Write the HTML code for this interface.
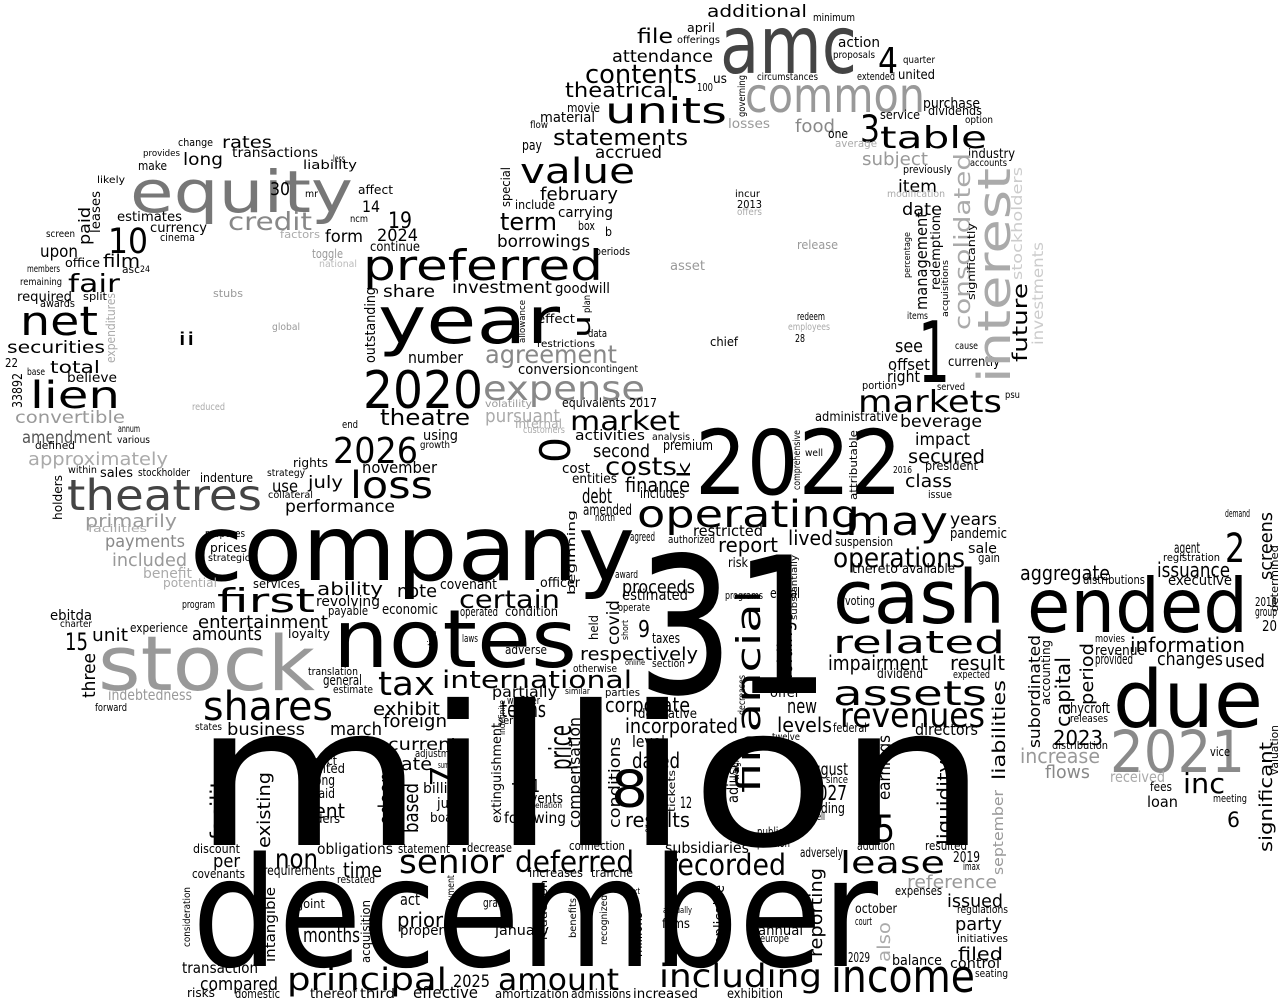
<!DOCTYPE html>
<html><head><meta charset="utf-8"><style>
html,body{margin:0;padding:0;background:#fff;}
svg{display:block;}
text{font-family:"DejaVu Sans","Liberation Sans",sans-serif;}
</style></head><body>
<svg id="cloud" width="1280" height="1005" viewBox="0 0 1280 1005">
<rect width="1280" height="1005" fill="#fff"/>
</svg>
<script>
// horizontal words: [text, left x, baseline y, font size, right x, colour]
const H = [
["million",192,845,195,988],["december",192,966,152,878],["company",190,580,91,635],
["31",637,693,190,830],["notes",333,667,80,577],["stock",98,690,76,315,"#999"],
["cash",833,623,74,1005],["ended",1027,632,75,1248],["due",1113,727,79,1263],
["2021",1110,772,58,1245,"#8a8a8a"],["2022",695,494,89,902],["year",378,343,65,560],
["2020",363,408,52,483],["preferred",363,280,42,603],["amc",720,73,80,857,"#444"],
["common",745,112,48,925,"#999"],["units",605,123,36,727],["value",520,183,35,635],
["equity",130,212,58,353,"#777"],["net",20,335,40,98],["lien",30,408,37,120],
["theatres",67,510,43,262,"#444"],["expense",483,400,34,645,"#888"],["operating",637,527,37,860],
["may",845,535,40,948],["operations",833,567,27,965],["related",833,653,31,1005],
["assets",833,705,34,987],["revenues",840,727,34,985],["1",918,382,85,950],
["income",831,992,45,975],["including",659,987,32,822],["amount",498,990,30,619],
["principal",287,990,31,447],["senior",399,873,33,504],["deferred",515,872,29,634],
["recorded",667,875,29,786],["lease",840,873,30,945],["5",875,842,37,895],
["8",611,807,51,648],["tax",378,695,33,435],["shares",203,720,40,333],
["first",217,612,33,315],["loss",350,498,37,433],["2026",333,463,36,418],
["international",442,688,24,632],["respectively",580,660,18,698],["certain",459,608,25,560],
["table",880,148,30,987],["markets",858,412,30,1002],["market",570,430,27,680],
["costs",605,475,25,677],["statements",553,145,22,688],["contents",585,83,26,697],
["4",878,73,36,898],["3",860,142,37,880],["2",1225,562,40,1245],["6",1227,827,21,1240],
["10",108,253,35,148],["fair",68,292,25,120],["credit",228,230,25,312,"#888"],
["agreement",485,363,25,617,"#888"],["9",638,637,23,650],["theatre",380,425,22,470],
["pursuant",485,422,18,560,"#aaa"],["term",500,230,24,557],["proceeds",622,593,18,695],
["corporate",605,712,20,690],["incorporated",625,733,20,738],["dated",632,768,21,680],
["results",625,827,20,690],["report",718,552,20,778],["lived",788,545,20,833],
["debt",582,503,20,612],["finance",625,492,20,690],["impairment",828,670,20,928],
["result",950,670,20,1005],["aggregate",1020,580,20,1110],["issuance",1157,577,20,1230],
["information",1130,652,20,1245],["changes",1157,665,18,1223],["used",1225,667,18,1265],
["inc",1183,793,28,1225],["2023",1053,745,20,1103],["increase",1020,763,20,1100,"#999"],
["flows",1045,778,18,1090,"#888"],["received",1110,782,15,1165,"#aaa"],["hycroft",1070,713,14,1110],
["revenue",1095,655,14,1145],["provided",1095,664,14,1133],["entertainment",198,628,18,328],
["amounts",192,640,18,262],["payments",105,547,17,185,"#888"],["primarily",85,527,18,177,"#999"],
["included",112,566,18,187,"#999"],["benefit",143,578,14,192,"#aaa"],["potential",163,587,12,217,"#aaa"],
["approximately",28,465,18,168,"#aaa"],["convertible",15,423,17,125,"#999"],["amendment",22,443,17,112,"#555"],
["securities",7,353,17,105],["total",50,373,17,100],["upon",40,257,17,78],["film",103,267,18,140],
["required",17,301,13,72],["rates",222,148,17,272],["long",183,165,17,223],
["transactions",232,157,13,318],["form",325,242,17,363],["2024",377,241,17,418],
["19",388,228,22,412],["14",362,212,16,380],["30",270,195,18,290],["continue",370,251,13,420],
["estimates",117,221,13,182],["currency",150,232,13,207],["use",272,492,17,298],
["july",308,488,17,343],["performance",285,512,17,395],["november",362,473,16,437],
["using",423,440,14,458],["second",593,457,18,650],["activities",575,440,14,645],
["premium",663,450,14,713],["borrowings",497,247,17,590],["february",540,200,18,618],
["accrued",595,158,17,662],["attendance",612,62,17,713],["theatrical",565,97,20,673],
["file",637,43,20,673],["additional",707,17,17,807],["share",383,297,17,435],
["investment",452,293,17,552],["goodwill",555,293,14,610],["number",408,363,16,463],
["beverage",900,427,17,982],["impact",915,445,17,970],["secured",908,463,19,985],
["class",905,487,18,952],["see",895,352,18,923],["item",898,192,17,937],["date",902,215,17,942],
["subject",862,165,18,928,"#999"],["food",795,132,18,835,"#888"],["offset",888,370,16,930],
["right",887,382,16,920],["currently",948,366,13,1000],["administrative",815,421,13,898],
["purchase",923,108,14,980],["action",838,47,14,880],["united",898,79,13,935],
["years",950,525,17,997],["pandemic",950,538,14,1007],["ability",317,595,18,383],
["note",397,597,18,437],["exhibit",373,715,18,440],["foreign",383,727,18,447],
["business",227,735,17,305],["march",330,735,18,382],["current",388,750,17,458],
["rate",393,770,18,432],["rent",307,818,20,345],["non",275,868,27,318],["time",343,877,20,382],
["per",213,867,18,240],["prior",397,927,20,443],["months",303,942,20,360],
["compared",200,990,18,278],["transaction",182,973,15,258],["2025",453,987,17,490],
["effective",413,998,16,478],["terms",501,717,22,546],["levels",777,732,20,832],
["new",787,713,20,817],["2027",808,800,20,847],["august",805,775,17,848],
["reference",907,888,18,997,"#999"],["issued",947,907,18,1003],["party",955,930,18,1002],
["filed",958,960,18,1003],["control",950,968,14,1000],["balance",892,965,14,942],
["directors",915,735,16,978],["ebitda",50,620,14,92],["15",65,650,24,88],["unit",92,641,18,128],
["indebtedness",108,700,15,192,"#999"],["ii",178,345,18,195],["loan",1147,807,15,1178],
["agent",1174,553,15,1200],["executive",1168,585,14,1232],
["change",178,146,11,213],["provides",143,156,9,180],["make",138,170,12,167],["liability",303,169,12,357],
["less",333,162,10,345],["likely",97,183,10,125],["mr",305,197,10,318],["affect",358,194,12,393],
["ncm",350,222,10,368],["factors",280,238,11,320,"#aaa"],["toggle",312,258,12,343,"#999"],
["national",319,267,10,357,"#bbb"],["cinema",160,241,11,195],["screen",46,237,10,75],
["office",65,267,12,100],["asc",122,273,11,140],["24",140,272,9,150],["members",27,272,10,60],
["remaining",20,285,10,62],["split",83,300,11,107],["awards",40,307,11,75],["22",5,367,12,18],
["base",27,375,10,45],["believe",67,382,13,117],["annum",118,432,10,140],["various",117,443,10,150],
["defined",35,449,11,75],["within",68,473,10,97],["sales",100,477,13,133],["stockholder",138,476,11,190],
["indenture",200,482,12,253],["rights",293,467,12,328],["strategy",267,476,10,305],
["collateral",268,498,10,313],["end",342,428,11,358],["global",272,330,10,300,"#999"],
["stubs",213,297,11,243,"#999"],["reduced",192,410,10,225,"#aaa"],["facilities",88,532,11,147,"#aaa"],
["purposes",205,537,11,245],["prices",210,552,12,247],["strategic",208,561,10,250],
["services",253,588,12,300],["program",182,608,11,215],["revolving",316,606,14,380],
["payable",328,615,12,368],["economic",382,614,14,438],["covenant",440,589,14,497],
["loyalty",288,638,12,330],["charter",60,627,10,92],["experience",130,632,12,188],
["forward",95,711,11,127],["translation",308,675,11,358],["general",323,685,14,362],
["estimate",333,693,11,373],["states",195,730,10,222],["adjustment",415,757,11,463],
["respect",297,765,12,337],["limited",305,773,13,345],["among",298,785,14,335],
["unpaid",298,798,13,335],["lenders",298,823,12,340],["billion",423,793,14,465],
["june",437,808,14,465],["board",430,822,13,465],["discount",193,853,12,240],
["covenants",192,878,12,245],["requirements",263,875,13,335],["obligations",317,854,15,393],
["restated",337,883,11,375],["statement",398,853,12,450],["decrease",467,852,12,512],
["joint",300,908,12,325],["act",400,905,16,420],["property",400,935,14,457],
["risks",187,997,12,215],["domestic",235,998,12,280],["thereof",310,998,13,357],["third",360,998,13,395],
["partially",492,697,15,557],["events",523,803,14,563],["following",504,823,15,566],
["11",523,792,18,540],["connection",569,850,12,625],["subsidiaries",665,853,15,749],
["increases",529,877,12,583],["tranche",591,877,12,633],["estimated",622,600,15,688],
["taxes",652,643,14,680],["section",652,667,11,685],["parties",605,696,11,640],
["derivative",638,718,13,697],["level",632,747,16,665],["12",680,808,16,692],
["offer",770,697,13,800],["risk",728,567,13,748],["programs",725,599,11,763],["equal",770,598,14,800],
["restricted",693,536,15,763],["authorized",668,543,11,715],["agreed",630,541,12,655],
["amended",583,515,15,632],["includes",640,498,14,685],["north",595,521,11,615],
["entities",572,483,13,617],["award",615,578,11,638],["operate",618,611,11,650],
["officer",540,587,13,580],["suspension",835,546,12,893],["sale",968,553,14,997],
["gain",978,562,12,1000],["thereto",852,573,13,898],["available",902,573,13,955],
["voting",845,605,12,875],["dividend",877,678,13,923],["expected",953,678,11,990],
["federal",833,732,12,867],["since",826,783,11,848],["trading",805,813,14,845],["sell",813,820,11,825],
["resulted",925,850,12,967],["2019",953,862,15,980],["imax",963,870,11,980],["addition",857,850,12,895],
["adversely",800,857,13,843],["expenses",895,895,12,942],["regulations",957,913,11,1008],
["october",855,913,13,897],["court",855,925,11,872],["initiatives",957,942,11,1008],
["2029",848,962,13,870],["seating",975,977,11,1008],["january",495,935,14,549],["films",662,928,13,690],
["annual",758,935,14,803],["europe",760,942,11,789],["grant",483,907,12,507],
["amortization",495,998,12,569],["admissions",571,998,12,631],["increased",633,998,13,698],
["exhibition",727,998,13,783],["demand",1225,517,11,1250],["registration",1163,561,11,1220],
["distributions",1083,584,12,1145],["2018",1255,606,12,1277],["group",1255,616,12,1277],
["20",1262,631,15,1277],["movies",1095,642,11,1125],["releases",1070,722,11,1108],
["distribution",1052,749,11,1108],["vice",1210,756,12,1230],["fees",1150,791,12,1172],
["meeting",1213,802,11,1247],["minimum",813,21,11,855],["proposals",833,58,10,875],
["quarter",903,63,10,935],["circumstances",757,80,10,818],["extended",857,80,11,895],
["service",880,119,12,920],["dividends",928,115,12,982],["option",965,123,10,993],
["one",828,138,12,848],["average",835,147,11,877,"#aaa"],["losses",728,128,13,770,"#999"],
["industry",968,158,13,1015],["accounts",970,166,10,1007],["previously",903,173,11,952],
["modification",887,197,10,945,"#aaa"],["release",797,249,12,838,"#999"],["redeem",797,320,11,825],
["employees",788,330,10,830,"#aaa"],["28",795,342,11,805],["items",907,319,10,928],
["cause",955,349,10,978],["portion",862,389,11,897],["served",937,390,10,965],["psu",1005,398,10,1020],
["president",925,470,12,978],["2016",893,473,10,912],["issue",928,498,11,952],["well",805,456,10,823],
["april",687,32,12,715],["offerings",677,43,10,720],["us",713,83,13,727],["100",697,91,11,713],
["movie",567,112,12,600],["material",540,122,14,595],["flow",530,128,10,548],["pay",522,150,14,542],
["include",515,209,12,555],["carrying",558,217,14,613],["box",578,230,12,595],["b",605,236,12,612],
["effect",537,323,12,575],["data",588,337,11,607],["restrictions",537,347,10,595],
["conversion",518,374,14,590],["contingent",590,372,10,638],["volatility",485,407,10,532,"#999"],
["equivalents 2017",562,407,12,657],["internal",515,428,12,562,"#aaa"],["customers",523,433,10,565,"#aaa"],
["growth",420,448,10,450],["cost",562,473,14,590],["analysis",652,440,10,690],
["incur",735,197,10,760],["2013",737,208,11,762],["offers",737,215,10,762,"#aaa"],
["periods",595,255,11,630],["asset",670,270,13,705,"#999"],["chief",710,346,12,738],
["laws",462,642,11,478],["adverse",505,654,12,547],["otherwise",573,672,11,617],["similar",565,694,9,590],
["whether",507,704,11,540],["series",498,724,11,527],["summary",438,768,9,463],["cancellation",518,808,8,562],
["public",757,836,12,783],["pension",757,847,12,790],["twelve",772,740,10,800],["next",625,894,9,640],
["annually",663,913,9,692],["condition",505,616,13,558],["operated",460,616,12,498],["actual",645,832,9,665],
["online",625,665,8,645]
];
// rotated words (reading upward): [text, baseline x, bottom y, font size, top y, colour]
const V = [
["financial",760,793,33,590],["interest",1010,383,45,168,"#aaa"],["consolidated",970,330,22,153,"#aaa"],
["stockholders",1022,280,14,167,"#ccc"],["investments",1043,345,15,242,"#ccc"],["future",1027,362,20,283],
["management",927,310,16,212],["redemption",940,290,13,215],["significantly",975,300,11,223],
["acquisitions",948,317,9,260],["percentage",910,278,9,232],["outstanding",375,363,14,287],
["special",510,207,12,167],["u",590,338,24,315],["plan",590,313,10,295],["0",570,463,42,437],["k",690,478,18,462],
["price",571,770,30,725],["exchange",529,813,22,737],["extinguishment",501,823,13,723],
["compensation",580,828,16,717],["conditions",620,828,16,737],["holdings",792,685,20,612],
["earnings",890,800,17,735],["liquidity",950,845,18,760],["liabilities",1005,780,18,680],
["september",1003,875,14,790,"#999"],["reporting",822,957,18,868],["also",890,962,18,922,"#aaa"],
["millions",642,957,16,912],["applicable",724,953,14,885],["adjusted",738,803,15,747],
["facility",225,840,20,767],["existing",270,848,18,772],["odeon",393,825,20,772],["based",418,833,20,783],
["intangible",275,962,14,887],["acquisition",370,963,12,900],["consideration",190,947,10,887],
["three",95,698,18,653],["holders",62,520,12,475],["33892",22,408,13,373],["paid",90,245,16,207],
["leases",100,233,13,191],["expenditures",115,363,12,293,"#aaa"],["subordinated",1040,748,16,635],
["capital",1070,727,20,657],["period",1093,705,18,643],["accounting",1050,705,12,640],
["screens",1272,580,18,512],["significant",1272,852,18,742],["7",450,787,28,765],
["governing",745,117,10,75],["attributable",857,500,11,430],["comprehensive",800,490,10,430],
["beginning",575,595,11,510],["substantially",797,620,9,555],["assumptions",965,837,10,770],
["determined",1278,612,11,545],["valuation",1278,775,11,725],["allowance",525,343,9,300],
["vesting",434,660,9,630],["indefinite",505,735,9,700],["tickets",675,812,10,770],["weighted",739,780,10,745],
["decreases",745,715,10,675],["recognized",607,945,10,895],["benefits",576,938,10,898],
["reduction",547,940,10,880],["payment",454,910,10,875],["held",598,640,12,615],["short",628,640,9,620],
["covid",619,645,17,600]
];
const svg = document.getElementById('cloud');
const NS = 'http://www.w3.org/2000/svg';
H.forEach(function (w) {
  const t = document.createElementNS(NS, 'text');
  
  
  t.setAttribute('x', w[1]);
  t.setAttribute('y', w[2]);
  t.setAttribute('font-size', w[3]);
  t.setAttribute('textLength', Math.max(1, w[4] - w[1]));
  t.setAttribute('lengthAdjust', 'spacingAndGlyphs');
  t.setAttribute('fill', w[5] || '#000');
  t.textContent = w[0];
  svg.appendChild(t);
});
V.forEach(function (w) {
  const t = document.createElementNS(NS, 'text');
  
  
  t.setAttribute('x', w[1]);
  t.setAttribute('y', w[2]);
  t.setAttribute('font-size', w[3]);
  t.setAttribute('textLength', Math.max(1, w[2] - w[4]));
  t.setAttribute('lengthAdjust', 'spacingAndGlyphs');
  t.setAttribute('transform', 'rotate(-90 ' + w[1] + ' ' + w[2] + ')');
  t.setAttribute('fill', w[5] || '#000');
  t.textContent = w[0];
  svg.appendChild(t);
});
</script>
</body></html>
